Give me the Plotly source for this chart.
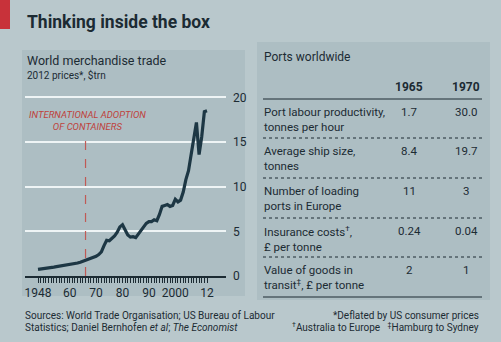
import plotly.graph_objects as go

W, H = 501, 342

years = list(range(1948, 2013))
trade = [0.75, 0.78, 0.82, 0.88, 0.90, 0.95, 1.00, 1.05, 1.10, 1.12,
         1.12, 1.17, 1.22, 1.28, 1.35, 1.45, 1.55, 1.65, 1.75, 1.82,
         1.92, 2.05, 2.20, 2.40, 2.70, 3.40, 4.00, 3.95, 4.20, 4.50,
         4.90, 5.50, 5.75, 5.20, 4.60, 4.35, 4.40, 4.30, 4.70, 5.20,
         5.60, 5.90, 6.10, 6.10, 6.30, 6.20, 6.90, 7.80, 7.90, 8.00,
         7.80, 7.90, 8.60, 8.30, 8.50, 9.40, 10.80, 11.80, 13.60, 15.70,
         17.20, 13.60, 15.60, 18.40, 18.50]
x_label_years = [1948, 1960, 1970, 1980, 1990, 2000, 2012]
x_label_text = ["1948", "60", "70", "80", "90", "2000", "12"]
y_ticks = [0, 5, 10, 15, 20]
ADOPTION_YEAR = 1966
ADOPTION_TOP = 15.8

table_title = "Ports worldwide"
col_years = ["1965", "1970"]
row_labels = ["Port labour productivity,<br>tonnes per hour",
              "Average ship size,<br>tonnes",
              "Number of loading<br>ports in Europe",
              "Insurance costs<sup>†</sup>,<br>£ per tonne",
              "Value of goods in<br>transit<sup>‡</sup>, £ per tonne"]
v1965 = ["1.7", "8.4", "11", "0.24", "2"]
v1970 = ["30.0", "19.7", "3", "0.04", "1"]

BG = "#b9c8cc"
PANEL = "#adbec3"
INK = "#1c2b33"
LINE = "#1d3744"
RED = "#bf423c"
FONT = "Roboto"


def px(x):
    return x / W


def py(y):
    return 1 - y / H


fig = go.Figure()
fig.add_trace(go.Scatter(x=years, y=trade, mode="lines",
                         line=dict(color=LINE, width=3.2),
                         hoverinfo="skip", showlegend=False))

shapes = []
# panels
shapes.append(dict(type="rect", xref="paper", yref="paper", layer="below",
                   x0=px(22), x1=px(245), y0=py(296), y1=py(50),
                   fillcolor=PANEL, line=dict(width=0)))
shapes.append(dict(type="rect", xref="paper", yref="paper", layer="below",
                   x0=px(257), x1=px(490), y0=py(300), y1=py(42),
                   fillcolor=PANEL, line=dict(width=0)))
# red tab
shapes.append(dict(type="rect", xref="paper", yref="paper",
                   x0=0, x1=px(10), y0=py(29), y1=1,
                   fillcolor="#c8323a", line=dict(width=0)))
# adoption line
shapes.append(dict(type="line", xref="x", yref="y",
                   x0=ADOPTION_YEAR, x1=ADOPTION_YEAR, y0=0, y1=ADOPTION_TOP,
                   line=dict(color="#c05a55", width=1.2, dash="dash")))
# table rules
shapes.append(dict(type="line", xref="paper", yref="paper",
                   x0=px(263), x1=px(482), y0=py(99), y1=py(99),
                   line=dict(color=INK, width=1)))
for yy in [138, 178, 218, 257]:
    shapes.append(dict(type="line", xref="paper", yref="paper",
                       x0=px(263), x1=px(482), y0=py(yy), y1=py(yy),
                       line=dict(color=INK, width=1, dash="dot")))
shapes.append(dict(type="line", xref="paper", yref="paper",
                   x0=px(263), x1=px(482), y0=py(297), y1=py(297),
                   line=dict(color=INK, width=1)))

ann = []


def text(x, y, s, size, color=INK, xanchor="left", yanchor="middle",
         bold=False, align="left"):
    ann.append(dict(x=px(x), y=py(y), xref="paper", yref="paper", text=s,
                    showarrow=False, xanchor=xanchor, yanchor=yanchor,
                    align=align,
                    font=dict(family=FONT, size=size, color=color,
                              weight="bold" if bold else "normal")))


text(25, 22, "Thinking inside the box", 17.5, bold=True)
text(25, 60, "World merchandise trade", 12.5)
text(25, 75, "2012 prices*, $trn", 10)
ann.append(dict(x=px(87), y=py(107), xref="paper", yref="paper",
                text="<i>INTERNATIONAL ADOPTION<br>OF CONTAINERS</i>",
                showarrow=False, xanchor="center", yanchor="top",
                align="center", font=dict(family=FONT, size=9.5, color=RED)))

text(262, 57, table_title, 12)
text(409, 87, col_years[0], 12, xanchor="center", bold=True)
text(466, 87, col_years[1], 12, xanchor="center", bold=True)
row_top = [99, 138, 178, 218, 257]
for i, lab in enumerate(row_labels):
    t = row_top[i]
    text(262, t + 4, lab, 11.5, yanchor="top")
    text(409, t + 4, v1965[i], 11.5, xanchor="center", yanchor="top")
    text(466, t + 4, v1970[i], 11.5, xanchor="center", yanchor="top")

text(23, 315, "Sources: World Trade Organisation; US Bureau of Labour", 10)
text(23, 327, "Statistics; Daniel Bernhofen <i>et al</i>; <i>The Economist</i>", 10)
text(481, 315, "*Deflated by US consumer prices", 10, xanchor="right")
text(481, 327, "<sup>†</sup>Australia to Europe   <sup>‡</sup>Hamburg to Sydney", 10,
     xanchor="right")

x0 = 1948 - (38 - 25) / 2.64
x1 = 2012 + (226 - 207) / 2.64

fig.update_layout(
    width=W, height=H, margin=dict(l=0, r=0, t=0, b=0),
    paper_bgcolor=BG, plot_bgcolor=PANEL,
    shapes=shapes, annotations=ann, showlegend=False,
    font=dict(family=FONT, color=INK),
    xaxis=dict(domain=[px(25), px(226)], range=[x0, x1], automargin=False,
               tickvals=x_label_years, ticktext=x_label_text,
               ticks="outside", ticklen=5, tickcolor=INK, tickwidth=1,
               minor=dict(tickvals=years, ticks="outside", ticklen=5,
                          tickcolor=INK, tickwidth=1, showgrid=False),
               showline=True, linecolor=INK, linewidth=1.5,
               showgrid=False, zeroline=False,
               tickfont=dict(size=12, color=INK)),
    yaxis=dict(domain=[py(276), py(93)], range=[0, 20.5], automargin=False,
               tickvals=y_ticks, side="right", showgrid=True,
               gridcolor="#eef4f5", gridwidth=1.5, zeroline=False,
               showline=False, ticks="", ticklabelstandoff=6,
               tickfont=dict(size=12, color=INK)),
)

fig.write_html("out.html")
